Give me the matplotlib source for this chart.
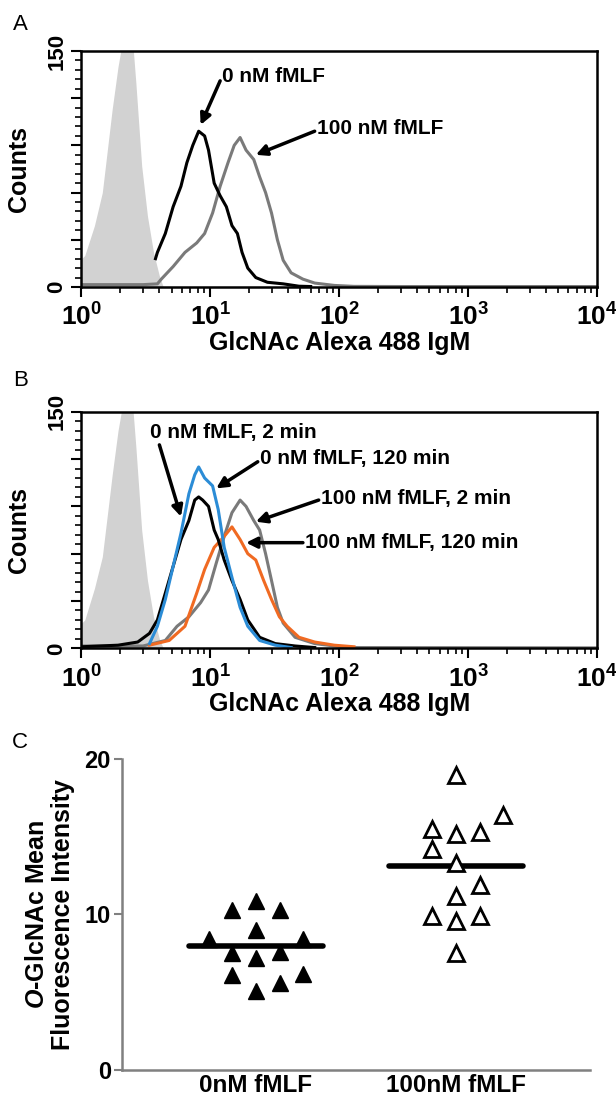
import numpy as np
import matplotlib
matplotlib.use('Agg')
import matplotlib.pyplot as plt
from matplotlib.ticker import LogLocator, MultipleLocator, FuncFormatter, NullFormatter

plt.rcParams['font.family'] = ['Liberation Sans', 'DejaVu Sans']
plt.rcParams['mathtext.fontset'] = 'custom'
plt.rcParams['mathtext.rm'] = 'Liberation Sans'
plt.rcParams['mathtext.bf'] = 'Liberation Sans:bold'
plt.rcParams['mathtext.it'] = 'Liberation Sans:italic'
plt.rcParams['mathtext.bfit'] = 'Liberation Sans:italic:bold'

# ---- panel A histograms (intensity, counts) ----
isoA_x = [1.0, 1.06, 1.26, 1.45, 1.73, 1.92, 2.14, 2.29, 2.46, 2.64, 2.93, 3.25, 3.62, 4.02, 4.31]
isoA_y = [18, 20, 39, 60, 113, 140, 162, 170, 162, 130, 77, 45, 22, 7, 0]

ctrlA_x = [3.75, 3.88, 4.47, 5.14, 5.91, 6.57, 7.30, 8.11, 9.02, 9.67, 10.7, 11.9, 13.3,
           14.7, 16.2, 17.6, 19.5, 22.5, 27.7, 36.7, 48.7, 60]
ctrlA_y = [18, 22, 34, 51, 64, 79, 90, 99, 96, 87, 66, 58, 51, 39, 34, 22, 12, 6, 3, 2, 0.5, 0.3]

fmlfA_x = [1.0, 2.0, 3.0, 3.88, 4.16, 5.14, 6.35, 7.83, 9.02, 10.4, 11.9, 13.7, 15.3, 17.0,
           18.9, 21.7, 24.1, 26.8, 29.8, 33.1, 36.7, 42.3, 52.2, 64.5, 91.5, 130, 300, 10000]
fmlfA_y = [1.5, 1.5, 1.5, 2, 5, 13, 22, 28, 34, 47, 64, 79, 90, 95,
           87, 81, 70, 60, 47, 30, 17, 9, 5, 2.5, 1, 0.4, 0.3, 0.3]

# ---- panel B histograms ----
isoB_x = [1.0, 1.06, 1.26, 1.45, 1.73, 1.92, 2.14, 2.29, 2.46, 2.64, 2.93, 3.25, 3.62, 4.02, 4.31]
isoB_y = [16, 18, 38, 58, 110, 138, 160, 170, 160, 128, 75, 43, 20, 6, 0]

ctrl2_x = [1.0, 1.92, 2.73, 3.37, 3.88, 4.47, 5.14, 5.91, 6.81, 7.56, 8.11, 8.71, 9.67, 10.7,
           11.5, 12.8, 14.7, 17.0, 19.5, 24.1, 31.9, 45.4, 64.5]
ctrl2_y = [1, 2, 4, 9.5, 18, 35, 52, 69, 81, 94, 96, 94, 90, 75,
           69, 56, 43, 31, 18, 7, 3, 1.5, 0.5]

ctrl120_x = [3.37, 3.88, 4.47, 5.14, 5.91, 6.81, 7.56, 8.11, 9.02, 10.4, 11.5, 12.8, 14.7,
             17.0, 19.5, 24.1, 31.9, 42.3]
ctrl120_y = [3, 14, 31, 52, 73, 98, 110, 115, 108, 103, 88, 64, 45, 26, 14, 5, 2, 0.5]

fmlf2_x = [1.0, 3.0, 4.47, 5.51, 6.81, 8.4, 9.67, 11.1, 12.8, 14.7, 17.0, 18.9, 21.7, 24.1,
           26.8, 29.8, 33.1, 36.7, 45.4, 64.5, 91.5, 130, 10000]
fmlf2_y = [1.5, 1.5, 5, 14, 20, 29, 37, 54, 71, 86, 94, 90, 81, 75,
           60, 43, 26, 16, 7, 3, 1.5, 0.5, 0.3]

fmlf120_x = [3.37, 4.79, 6.35, 7.83, 9.02, 10.7, 12.8, 14.7, 17.0, 19.5, 22.5, 25.9, 29.8,
             34.3, 39.4, 48.7, 64.5, 91.5, 130]
fmlf120_y = [2, 5, 14, 35, 50, 64, 71, 77, 69, 60, 56, 43, 31, 20, 14, 7, 4, 2, 1]

# ---- panel C: mean fluorescence intensity ----
groups = ['0nM fMLF', '100nM fMLF']
ctrl_col = [0, -1, 1, 0, -2, 2, -1, 1, 0, -1, 2, 1, 0]
ctrl_mfi = [10.9, 10.3, 10.3, 9.0, 8.4, 8.4, 7.5, 7.6, 7.2, 6.1, 6.2, 5.6, 5.1]
fmlf_col = [0, 2, -1, 0, 1, -1, 0, 1, 0, -1, 0, 1, 0]
fmlf_mfi = [19.0, 16.4, 15.5, 15.2, 15.3, 14.2, 13.3, 11.9, 11.2, 9.9, 9.6, 9.9, 7.5]
group_mean = [8.0, 13.1]

BLUE = '#2b8cd6'
ORANGE = '#f06a22'
GRAY = '#7a7a7a'
FILL = '#d2d2d2'


def setup_hist(ax):
    ax.set_xscale('log')
    ax.set_xlim(1, 1e4)
    ax.set_ylim(0, 150)
    ax.xaxis.set_major_locator(LogLocator(base=10, numticks=10))
    ax.xaxis.set_minor_locator(LogLocator(base=10, subs=np.arange(2, 10), numticks=10))
    ax.xaxis.set_minor_formatter(NullFormatter())
    ax.xaxis.set_major_formatter(FuncFormatter(
        lambda v, p: r'$\mathbf{10^{%d}}$' % round(np.log10(v))))
    ax.yaxis.set_major_locator(MultipleLocator(30))
    ax.yaxis.set_minor_locator(MultipleLocator(6))
    ax.yaxis.set_major_formatter(FuncFormatter(
        lambda v, p: '%d' % v if round(v) in (0, 150) else ''))
    ax.tick_params(which='major', direction='out', length=7, width=1.5, labelsize=19, pad=5)
    ax.tick_params(which='minor', direction='out', length=4, width=1.2)
    ax.tick_params(axis='y', labelsize=16, pad=3)
    for lab in ax.get_yticklabels():
        lab.set_rotation(90)
        lab.set_va('center')
        lab.set_fontweight('bold')
    for s in ax.spines.values():
        s.set_linewidth(1.8)
    ax.set_xlabel('GlcNAc Alexa 488 IgM', fontsize=18, fontweight='bold', labelpad=0)
    ax.set_ylabel('Counts', fontsize=18, fontweight='bold')
    ax.yaxis.set_label_coords(-0.098, 0.5)


def note(ax, text, txy, tail, head):
    ax.text(txy[0], txy[1], text, fontsize=15, fontweight='bold', ha='left', va='center')
    ax.annotate('', xy=head, xytext=tail,
                arrowprops=dict(arrowstyle='-|>', color='black', lw=2.5,
                                mutation_scale=16, shrinkA=0, shrinkB=0))


fig = plt.figure(figsize=(6.16, 11.03), dpi=100)
axA = fig.add_axes([0.1323, 0.7398, 0.837, 0.214])
axB = fig.add_axes([0.1323, 0.4122, 0.837, 0.2145])
axC = fig.add_axes([0.198, 0.0299, 0.760, 0.282])

# A
axA.fill_between(isoA_x, isoA_y, color=FILL, lw=0)
axA.plot(fmlfA_x, fmlfA_y, color=GRAY, lw=2.2)
axA.plot(ctrlA_x, ctrlA_y, color='black', lw=2.2)
setup_hist(axA)
note(axA, '0 nM fMLF', (12.4, 134), (11.9, 131), (8.4, 103))
note(axA, '100 nM fMLF', (66.8, 101), (64.4, 99), (22.5, 84))

# B
axB.fill_between(isoB_x, isoB_y, color=FILL, lw=0)
axB.plot(fmlf2_x, fmlf2_y, color=GRAY, lw=2.2)
axB.plot(fmlf120_x, fmlf120_y, color=ORANGE, lw=2.2)
axB.plot(ctrl2_x, ctrl2_y, color='black', lw=2.2)
axB.plot(ctrl120_x, ctrl120_y, color=BLUE, lw=2.2)
setup_hist(axB)
note(axB, '0 nM fMLF, 2 min', (3.37, 137), (4.02, 129), (5.91, 83.5))
note(axB, '0 nM fMLF, 120 min', (24.1, 120.4), (23.3, 118.3), (11.1, 101.4))
note(axB, '100 nM fMLF, 2 min', (71.6, 95), (69.2, 94), (22.5, 80.3))
note(axB, '100 nM fMLF, 120 min', (54.1, 67), (52.2, 67), (18.9, 67))

# C
step = 0.118
half = 0.334
for i, m in enumerate(group_mean):
    axC.plot([i - half, i + half], [m, m], color='black', lw=4, solid_capstyle='round')
axC.plot(np.array(ctrl_col) * step, ctrl_mfi, '^', ms=12, color='black', clip_on=False)
axC.plot(1 + np.array(fmlf_col) * step, fmlf_mfi, '^', ms=11, mfc='white', mec='black',
         mew=2, clip_on=False)
axC.set_xlim(-0.67, 1.67)
axC.set_ylim(0, 20)
axC.set_yticks([0, 10, 20])
axC.set_xticks([0, 1])
axC.set_xticklabels(groups, fontsize=17.5, fontweight='bold')
for lab in axC.get_yticklabels():
    lab.set_fontweight('bold')
axC.tick_params(axis='y', direction='out', length=6, width=1.5, color='#808080',
                labelsize=17, pad=2)
axC.tick_params(axis='x', length=0, pad=3)
for side in ['top', 'right']:
    axC.spines[side].set_visible(False)
for side in ['left', 'bottom']:
    axC.spines[side].set_color('#808080')
    axC.spines[side].set_linewidth(1.8)
axC.set_ylabel(r'$\mathbfit{O}$-GlcNAc Mean' + '\nFluorescence Intensity',
               fontsize=18, fontweight='bold', linespacing=1.1)
axC.yaxis.set_label_coords(-0.100, 0.5)

fig.text(0.033, 1 - 25 / 1103, 'A', fontsize=16, ha='center', va='center')
fig.text(0.033, 1 - 380 / 1103, 'B', fontsize=16, ha='center', va='center')
fig.text(0.033, 1 - 743 / 1103, 'C', fontsize=16, ha='center', va='center')

fig.savefig('out.png', dpi=100)
